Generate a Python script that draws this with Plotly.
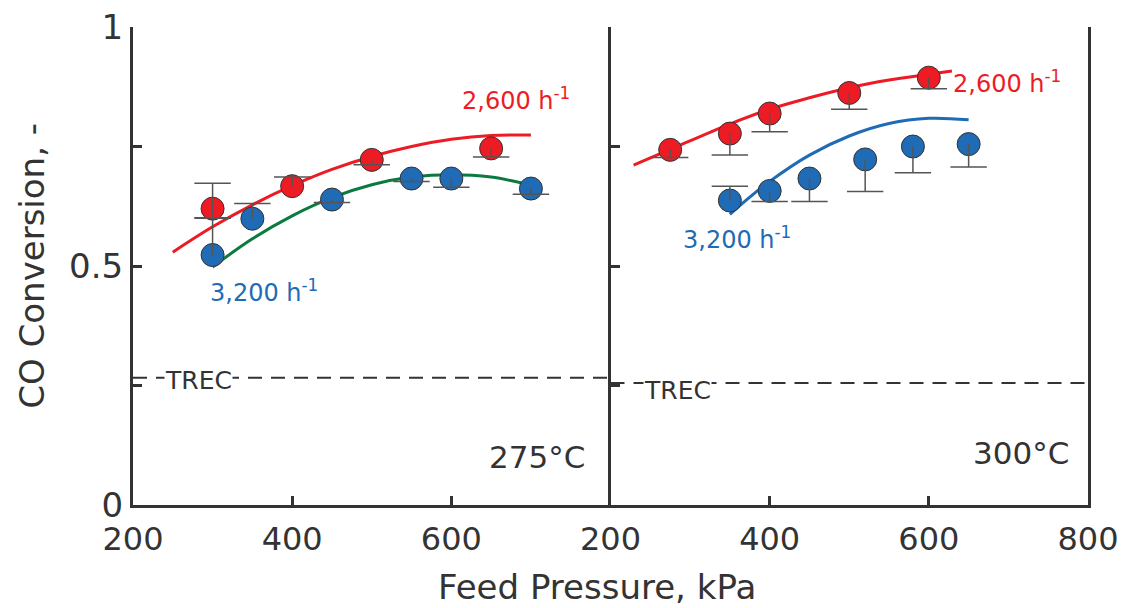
import plotly.graph_objects as go

# ---------------- data ----------------
# Left panel (275 C)
L_red_x = [300, 400, 500, 650]
L_red_y = [0.620, 0.667, 0.722, 0.746]
L_red_up = [0.053, 0.019, 0.0, 0.0]
L_red_dn = [0.020, 0.0, 0.010, 0.018]

L_blue_x = [300, 350, 450, 550, 600, 700]
L_blue_y = [0.523, 0.599, 0.639, 0.683, 0.683, 0.662]
L_blue_up = [0.078, 0.032, 0.0, 0.0, 0.0, 0.0]
L_blue_dn = [0.0, 0.0, 0.006, 0.006, 0.018, 0.012]

L_redfit_x = [250, 300, 350, 400, 450, 500, 550, 600, 650, 700]
L_redfit_y = [0.529, 0.582, 0.628, 0.668, 0.702, 0.729, 0.750, 0.765, 0.773, 0.774]
L_greenfit_x = [300, 350, 400, 450, 500, 550, 600, 650, 700]
L_greenfit_y = [0.498, 0.557, 0.605, 0.643, 0.670, 0.686, 0.691, 0.686, 0.669]

# Right panel (300 C)
R_red_x = [275, 350, 400, 500, 600]
R_red_y = [0.743, 0.777, 0.819, 0.862, 0.894]
R_red_up = [0.0, 0.0, 0.0, 0.0, 0.0]
R_red_dn = [0.016, 0.045, 0.038, 0.034, 0.023]

R_blue_x = [350, 400, 450, 520, 580, 650]
R_blue_y = [0.637, 0.657, 0.683, 0.723, 0.750, 0.755]
R_blue_up = [0.030, 0.0, 0.0, 0.0, 0.0, 0.0]
R_blue_dn = [0.0, 0.022, 0.048, 0.067, 0.055, 0.048]

R_redfit_x = [229, 275, 350, 400, 450, 500, 550, 600, 629]
R_redfit_y = [0.711, 0.744, 0.797, 0.828, 0.852, 0.873, 0.889, 0.901, 0.908]
R_bluefit_x = [350, 375, 400, 450, 500, 550, 600, 650]
R_bluefit_y = [0.608, 0.644, 0.677, 0.732, 0.772, 0.798, 0.809, 0.806]

TREC_left = 0.266
TREC_right = 0.255

x_range = [200, 800]
y_ticks = [0, 0.5, 1]
y_minor = [0.25, 0.75]

# ---------------- styles ----------------
RED = "#ED1C24"
BLUE = "#1F6BB5"
GREEN = "#0B7A3F"
AX = "#333333"
ERR = "#555555"
SANS = "DejaVu Sans, Verdana, sans-serif"

fig = go.Figure()


def add_fit(x, y, color, xa, ya):
    fig.add_trace(go.Scatter(x=x, y=y, mode="lines", line=dict(color=color, width=3, shape="spline"),
                             xaxis=xa, yaxis=ya, hoverinfo="skip", showlegend=False))


def add_points(x, y, color, up, dn, xa, ya):
    fig.add_trace(go.Scatter(x=x, y=y, mode="markers",
                             marker=dict(size=23, color=color, line=dict(color=AX, width=1)),
                             xaxis=xa, yaxis=ya, showlegend=False))
    # error stems and caps
    sx, sy = [], []
    cx, cy = [], []
    for xi, yi, u, d in zip(x, y, up, dn):
        sx += [xi, xi, None]
        sy += [yi - d, yi + u, None]
        if u > 0:
            cx.append(xi); cy.append(yi + u)
        if d > 0:
            cx.append(xi); cy.append(yi - d)
    fig.add_trace(go.Scatter(x=sx, y=sy, mode="lines", line=dict(color=ERR, width=1.5),
                             xaxis=xa, yaxis=ya, hoverinfo="skip", showlegend=False))
    fig.add_trace(go.Scatter(x=cx, y=cy, mode="markers",
                             marker=dict(symbol="line-ew-open", size=26, color=ERR,
                                         line=dict(color=ERR, width=1.5)),
                             xaxis=xa, yaxis=ya, hoverinfo="skip", showlegend=False))


# TREC lines
fig.add_trace(go.Scatter(x=x_range, y=[TREC_left, TREC_left], mode="lines",
                         line=dict(color=AX, width=2, dash="14px,9px"), xaxis="x", yaxis="y",
                         hoverinfo="skip", showlegend=False))
fig.add_trace(go.Scatter(x=x_range, y=[TREC_right, TREC_right], mode="lines",
                         line=dict(color=AX, width=2, dash="14px,9px"), xaxis="x2", yaxis="y2",
                         hoverinfo="skip", showlegend=False))

add_fit(L_redfit_x, L_redfit_y, RED, "x", "y")
add_fit(L_greenfit_x, L_greenfit_y, GREEN, "x", "y")
add_points(L_red_x, L_red_y, RED, L_red_up, L_red_dn, "x", "y")
add_points(L_blue_x, L_blue_y, BLUE, L_blue_up, L_blue_dn, "x", "y")

add_fit(R_redfit_x, R_redfit_y, RED, "x2", "y2")
add_fit(R_bluefit_x, R_bluefit_y, BLUE, "x2", "y2")
add_points(R_red_x, R_red_y, RED, R_red_up, R_red_dn, "x2", "y2")
add_points(R_blue_x, R_blue_y, BLUE, R_blue_up, R_blue_dn, "x2", "y2")

xcommon = dict(range=x_range, showline=True, linecolor=AX, linewidth=3, mirror=False,
               ticks="inside", ticklen=9, tickwidth=2.5, tickcolor=AX, showgrid=False, zeroline=False,
               ticklabelstandoff=4, automargin=False,
               tickfont=dict(family=SANS, size=32, color=AX))
ycommon = dict(range=[0, 1], showline=True, linecolor=AX, linewidth=3, automargin=False,
               ticks="inside", ticklen=9, tickwidth=2.5, tickcolor=AX, showgrid=False, zeroline=False,
               tickvals=y_ticks, ticktext=["0", "0.5", "1"],
               minor=dict(ticks="inside", tickvals=y_minor, ticklen=9, tickwidth=2.5, tickcolor=AX),
               tickfont=dict(family=SANS, size=34, color=AX))

fig.update_layout(
    width=1122, height=608,
    margin=dict(l=133, r=34, t=27, b=103),
    paper_bgcolor="white", plot_bgcolor="white",
    xaxis=dict(domain=[0, 0.5], anchor="y", tickvals=[200, 400, 600], **xcommon),
    xaxis2=dict(domain=[0.5, 1], anchor="y2", tickvals=[200, 400, 600, 800], **xcommon),
    yaxis=dict(anchor="x", mirror=False, **ycommon),
    yaxis2=dict(anchor="x2", mirror=True, showticklabels=False, **ycommon),
)

ann = [
    dict(x=681, y=0.849, xref="x", yref="y", text="2,600 h<sup>-1</sup>",
         font=dict(family=SANS, size=24, color=RED)),
    dict(x=364, y=0.447, xref="x", yref="y", text="3,200 h<sup>-1</sup>",
         font=dict(family=SANS, size=24, color=BLUE)),
    dict(x=698, y=0.884, xref="x2", yref="y2", text="2,600 h<sup>-1</sup>",
         font=dict(family=SANS, size=24, color=RED)),
    dict(x=359, y=0.559, xref="x2", yref="y2", text="3,200 h<sup>-1</sup>",
         font=dict(family=SANS, size=24, color=BLUE)),
    dict(x=282, y=TREC_left - 0.006, xref="x", yref="y", text="TREC", bgcolor="white",
         borderpad=0, font=dict(family=SANS, size=25, color=AX)),
    dict(x=284, y=TREC_right - 0.015, xref="x2", yref="y2", text="TREC", bgcolor="white",
         borderpad=0, font=dict(family=SANS, size=25, color=AX)),
    dict(x=771, y=0.10, xref="x", yref="y", text="275°C", xanchor="right",
         font=dict(family=SANS, size=31, color=AX)),
    dict(x=779, y=0.108, xref="x2", yref="y2", text="300°C", xanchor="right",
         font=dict(family=SANS, size=31, color=AX)),
    dict(x=-0.106, y=0.50, xref="paper", yref="paper", text="CO Conversion, -", textangle=-90,
         xanchor="center", yanchor="middle",
         font=dict(family=SANS, size=34, color=AX)),
    dict(x=0.486, y=-0.171, xref="paper", yref="paper", text="Feed Pressure, kPa",
         xanchor="center", yanchor="middle",
         font=dict(family=SANS, size=34, color=AX)),
]
for a in ann:
    a["showarrow"] = False
fig.update_layout(annotations=ann)

fig.write_html("out.html")
